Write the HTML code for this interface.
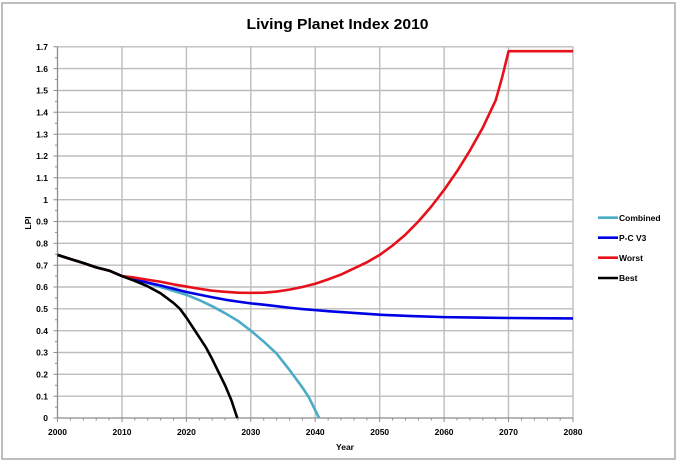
<!DOCTYPE html>
<html><head><meta charset="utf-8"><style>
html,body{margin:0;padding:0;background:#fff;}
svg{display:block;}
text{font-family:"Liberation Sans",Arial,sans-serif;font-weight:bold;fill:#000;}
</style></head><body>
<svg width="677" height="461" viewBox="0 0 677 461" xmlns="http://www.w3.org/2000/svg">
<rect x="0" y="0" width="677" height="461" fill="#fff"/>
<rect x="2" y="3" width="673" height="456" fill="none" stroke="#a8a8a8" stroke-width="1.5"/>
<text x="337.5" y="29" font-size="15" text-anchor="middle" textLength="182" lengthAdjust="spacingAndGlyphs">Living Planet Index 2010</text>

<g stroke="#bdbdbd" stroke-width="1.4">
<line x1="57.5" y1="46.8" x2="573" y2="46.8"/>
<line x1="57.5" y1="68.6" x2="573" y2="68.6"/>
<line x1="57.5" y1="90.5" x2="573" y2="90.5"/>
<line x1="57.5" y1="112.3" x2="573" y2="112.3"/>
<line x1="57.5" y1="134.2" x2="573" y2="134.2"/>
<line x1="57.5" y1="156.0" x2="573" y2="156.0"/>
<line x1="57.5" y1="177.8" x2="573" y2="177.8"/>
<line x1="57.5" y1="199.7" x2="573" y2="199.7"/>
<line x1="57.5" y1="221.5" x2="573" y2="221.5"/>
<line x1="57.5" y1="243.3" x2="573" y2="243.3"/>
<line x1="57.5" y1="265.2" x2="573" y2="265.2"/>
<line x1="57.5" y1="287.0" x2="573" y2="287.0"/>
<line x1="57.5" y1="308.8" x2="573" y2="308.8"/>
<line x1="57.5" y1="330.7" x2="573" y2="330.7"/>
<line x1="57.5" y1="352.5" x2="573" y2="352.5"/>
<line x1="57.5" y1="374.3" x2="573" y2="374.3"/>
<line x1="57.5" y1="396.2" x2="573" y2="396.2"/>
<line x1="122" y1="46.8" x2="122" y2="418"/>
<line x1="186.4" y1="46.8" x2="186.4" y2="418"/>
<line x1="250.8" y1="46.8" x2="250.8" y2="418"/>
<line x1="315.2" y1="46.8" x2="315.2" y2="418"/>
<line x1="379.7" y1="46.8" x2="379.7" y2="418"/>
<line x1="444.1" y1="46.8" x2="444.1" y2="418"/>
<line x1="508.5" y1="46.8" x2="508.5" y2="418"/>
<line x1="573" y1="46.8" x2="573" y2="418"/>
</g>
<g stroke="#8c8c8c" stroke-width="1.3">
<line x1="57.5" y1="46.8" x2="57.5" y2="418"/>
<line x1="57.5" y1="418" x2="573" y2="418"/>
</g>
<!-- y ticks -->
<g stroke="#8c8c8c" stroke-width="1">
<path d="M53.5 46.8H57.5M53.5 68.6H57.5M53.5 90.5H57.5M53.5 112.3H57.5M53.5 134.2H57.5M53.5 156H57.5M53.5 177.8H57.5M53.5 199.7H57.5M53.5 221.5H57.5M53.5 243.3H57.5M53.5 265.2H57.5M53.5 287H57.5M53.5 308.8H57.5M53.5 330.7H57.5M53.5 352.5H57.5M53.5 374.3H57.5M53.5 396.2H57.5M53.5 418H57.5"/>
<path d="M55 57.7H57.5M55 79.6H57.5M55 101.4H57.5M55 123.2H57.5M55 145.1H57.5M55 166.9H57.5M55 188.8H57.5M55 210.6H57.5M55 232.4H57.5M55 254.3H57.5M55 276.1H57.5M55 297.9H57.5M55 319.8H57.5M55 341.6H57.5M55 363.4H57.5M55 385.3H57.5M55 407.1H57.5"/>
</g>
<!-- x ticks -->
<g stroke="#8c8c8c" stroke-width="1">
<path d="M57.5 418V422M122 418V422M186.4 418V422M250.8 418V422M315.2 418V422M379.7 418V422M444.1 418V422M508.5 418V422M573 418V422"/>
<path id="mt" d="M70.4 418V420.5M83.3 418V420.5M96.2 418V420.5M109.1 418V420.5"/>
<use href="#mt" x="64.44"/><use href="#mt" x="128.88"/><use href="#mt" x="193.32"/><use href="#mt" x="257.76"/><use href="#mt" x="322.2"/><use href="#mt" x="386.64"/><use href="#mt" x="451.08"/>
</g>

<g font-size="8.5" text-anchor="end">
<text x="48" y="50">1.7</text>
<text x="48" y="71.8">1.6</text>
<text x="48" y="93.7">1.5</text>
<text x="48" y="115.5">1.4</text>
<text x="48" y="137.4">1.3</text>
<text x="48" y="159.2">1.2</text>
<text x="48" y="181">1.1</text>
<text x="48" y="202.9">1</text>
<text x="48" y="224.7">0.9</text>
<text x="48" y="246.5">0.8</text>
<text x="48" y="268.4">0.7</text>
<text x="48" y="290.2">0.6</text>
<text x="48" y="312">0.5</text>
<text x="48" y="333.9">0.4</text>
<text x="48" y="355.7">0.3</text>
<text x="48" y="377.5">0.2</text>
<text x="48" y="399.4">0.1</text>
<text x="48" y="421.2">0</text>
</g>
<g font-size="8.5" text-anchor="middle">
<text x="57.5" y="435">2000</text>
<text x="122" y="435">2010</text>
<text x="186.4" y="435">2020</text>
<text x="250.8" y="435">2030</text>
<text x="315.2" y="435">2040</text>
<text x="379.7" y="435">2050</text>
<text x="444.1" y="435">2060</text>
<text x="508.5" y="435">2070</text>
<text x="573" y="435">2080</text>
</g>
<text x="345" y="450" font-size="8.5" text-anchor="middle">Year</text>
<text x="0" y="0" font-size="8.5" text-anchor="middle" transform="translate(31,223) rotate(-90)">LPI</text>

<g transform="translate(57.5,418) scale(6.444,-218.35)" fill="none" stroke-linejoin="round" stroke-linecap="butt">
<polyline vector-effect="non-scaling-stroke" stroke="#4bacc6" stroke-width="2.6" points="0,0.747 2,0.728 4,0.71 6,0.69 8,0.675 10,0.65 12,0.635 14,0.618 16,0.6 18,0.582 20,0.564 22,0.54 24,0.512 26,0.48 28,0.445 30,0.4 32,0.35 34,0.295 36,0.22 38,0.14 39,0.095 40,0.035 40.6,0"/>
<polyline vector-effect="non-scaling-stroke" stroke="#0000e6" stroke-width="2.6" points="0,0.747 2,0.728 4,0.71 6,0.69 8,0.675 10,0.65 12,0.635 14,0.62 16,0.607 18,0.592 20,0.577 22,0.565 24,0.553 26,0.542 28,0.533 30,0.525 32,0.519 34,0.512 36,0.505 38,0.499 40,0.494 42,0.489 44,0.485 46,0.481 48,0.477 50,0.473 55,0.467 60,0.462 65,0.46 70,0.458 80,0.456"/>
<polyline vector-effect="non-scaling-stroke" stroke="#e8101a" stroke-width="2.6" points="0,0.747 2,0.728 4,0.71 6,0.69 8,0.675 10,0.65 12,0.643 14,0.633 16,0.624 18,0.612 20,0.602 22,0.592 24,0.583 26,0.578 28,0.574 30,0.573 32,0.574 34,0.579 36,0.588 38,0.6 40,0.615 42,0.635 44,0.657 46,0.685 48,0.713 50,0.747 52,0.79 54,0.84 56,0.9 58,0.968 60,1.045 62,1.13 64,1.225 66,1.33 68,1.455 69,1.56 70,1.68 80,1.68"/>
<polyline vector-effect="non-scaling-stroke" stroke="#000" stroke-width="2.6" points="0,0.747 2,0.728 4,0.71 6,0.69 8,0.675 10,0.65 12,0.628 14,0.603 16,0.571 18,0.527 19,0.5 20,0.46 21,0.415 22,0.37 23,0.325 24,0.27 25,0.21 26,0.15 27,0.08 27.9,0"/>
</g>

<g stroke-width="2.6">
<line x1="598" y1="217.7" x2="618" y2="217.7" stroke="#4bacc6"/>
<line x1="598" y1="237.7" x2="618" y2="237.7" stroke="#0000e6"/>
<line x1="598" y1="257.7" x2="618" y2="257.7" stroke="#e8101a"/>
<line x1="598" y1="278" x2="618" y2="278" stroke="#000"/>
</g>
<g font-size="8.5">
<text x="619" y="220.8">Combined</text>
<text x="619" y="240.8">P-C V3</text>
<text x="619" y="260.8">Worst</text>
<text x="619" y="281.1">Best</text>
</g>
</svg>
</body></html>
